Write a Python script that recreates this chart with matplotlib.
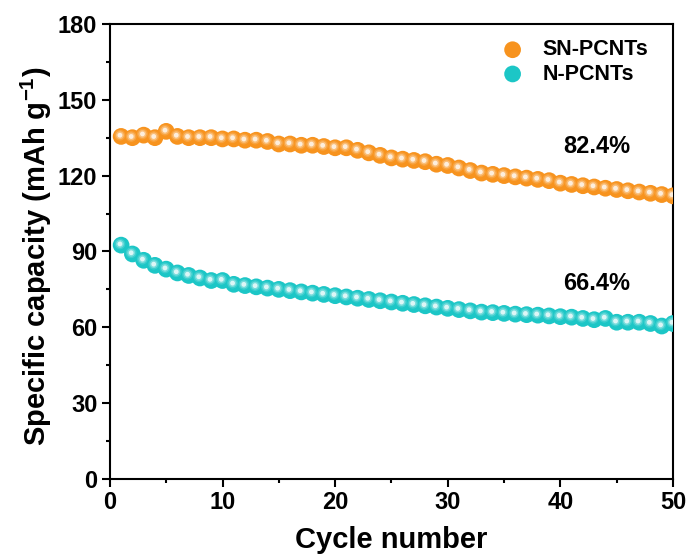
import matplotlib
matplotlib.use("Agg")
import matplotlib.pyplot as plt
import matplotlib.transforms as mtransforms
import numpy as np
from matplotlib.ticker import MultipleLocator

cycles = list(range(1, 51))
sn_pcnts = [135.5, 135, 136, 135, 137.5, 135.5, 135, 135, 135, 134.5,
            134.5, 134, 134, 133.5, 132.5, 132.5, 132, 132, 131.5, 131,
            131, 130, 129, 128, 127, 126.5, 126, 125.5, 124.5, 124,
            123, 122, 121, 120.5, 120, 119.5, 119, 118.5, 118, 117,
            116.5, 116, 115.5, 115, 114.5, 114, 113.5, 113, 112.5, 112]
n_pcnts = [92.5, 89, 86.5, 84.5, 83, 81.5, 80.5, 79.5, 78.5, 78.5,
           77, 76.5, 76, 75.5, 75, 74.5, 74, 73.5, 73, 72.5,
           72, 71.5, 71, 70.5, 70, 69.5, 69, 68.5, 68, 67.5,
           67, 66.5, 66, 65.8, 65.5, 65.2, 65, 64.8, 64.5, 64.2,
           64, 63.5, 63, 63.5, 62, 62, 62, 61.5, 60.5, 61.5]
labels = ["SN-PCNTs", "N-PCNTs"]
colors = ["#F7931E", "#1CC6C6"]
retention = ["82.4%", "66.4%"]

plt.rcParams['font.family'] = ['Liberation Sans', 'DejaVu Sans']
plt.rcParams['font.weight'] = 'bold'
plt.rcParams['mathtext.fontset'] = 'custom'
plt.rcParams['mathtext.bf'] = 'Liberation Sans:bold'
plt.rcParams['mathtext.rm'] = 'Liberation Sans:bold'
plt.rcParams['mathtext.default'] = 'bf'

fig = plt.figure(figsize=(6.91, 5.56), dpi=100)
ax = fig.add_axes([0.159, 0.1385, 0.815, 0.8185])

shift = mtransforms.ScaledTranslation(-1.2 / 100, 1.2 / 100, fig.dpi_scale_trans)

def sphere(x, y, color, label, zbase):
    ax.scatter(x, y, s=145, color=color, edgecolors='none', zorder=zbase, label=label)
    for s, a, z in [(60, 0.15, 0.1), (32, 0.3, 0.2), (12, 0.75, 0.3)]:
        sc = ax.scatter(x, y, s=s, color='white', alpha=a, edgecolors='none', zorder=zbase + z)
        sc.set_offset_transform(ax.transData + shift)

sphere(cycles, sn_pcnts, colors[0], labels[0], 3)
sphere(cycles, n_pcnts, colors[1], labels[1], 3)

ax.set_xlim(0, 50)
ax.set_ylim(0, 180)
ax.xaxis.set_major_locator(MultipleLocator(10))
ax.xaxis.set_minor_locator(MultipleLocator(5))
ax.yaxis.set_major_locator(MultipleLocator(30))
ax.yaxis.set_minor_locator(MultipleLocator(15))
ax.tick_params(which='major', direction='out', length=6, width=1.5, labelsize=17, pad=3)
ax.tick_params(which='minor', direction='out', length=3, width=1.5)
for sp in ax.spines.values():
    sp.set_linewidth(1.5)
for lab in ax.get_xticklabels() + ax.get_yticklabels():
    lab.set_fontweight('bold')

ax.set_xlabel("Cycle number", fontsize=21, fontweight='bold', labelpad=8)
ax.set_ylabel("Specific capacity (mAh g$^{-1}$)", fontsize=21, fontweight='bold')
ax.yaxis.set_label_coords(-0.100, 0.49)

ax.text(43.2, 131.5, retention[0], fontsize=17, fontweight='bold', ha='center', va='center')
ax.text(43.2, 77.5, retention[1], fontsize=17, fontweight='bold', ha='center', va='center')

leg = ax.legend(loc='upper left', bbox_to_anchor=(0.696, 0.966), frameon=False,
                fontsize=15.5, handlelength=1.0, handletextpad=0.9,
                borderaxespad=0, borderpad=0, labelspacing=0.15, scatterpoints=1)
for t in leg.get_texts():
    t.set_fontweight('bold')

fig.savefig("out.png", dpi=100)
